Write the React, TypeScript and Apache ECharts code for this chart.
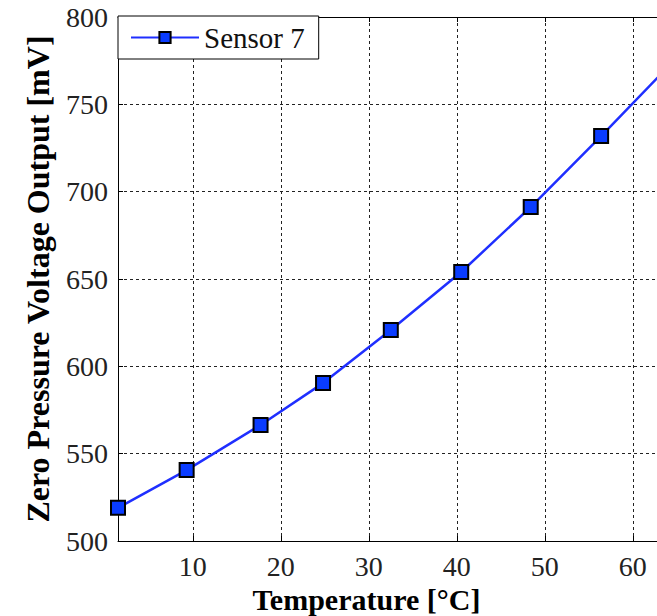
import React, { useEffect, useRef } from "react";
import * as echarts from "echarts";

const seriesName = "Sensor 7";
const temperature = [1.5, 9.3, 17.7, 24.8, 32.5, 40.5, 48.4, 56.4, 64.3];
const voltage = [519, 540.6, 566.4, 590.4, 620.8, 654, 691.2, 731.8, 773];
const yTicks = [500, 550, 600, 650, 700, 750, 800];
const xTicks = [10, 20, 30, 40, 50, 60];

const FONT = "Liberation Serif, Times New Roman, serif";

export default function App() {
  const ref = useRef<HTMLDivElement>(null);
  useEffect(() => {
    if (!ref.current) return;
    const chart = echarts.init(ref.current, undefined, { renderer: "svg" });
    const data = temperature.map((t, i) => [t, voltage[i]]);
    const xMin = 1.5;
    const xMax = 62.75;
    const axisLine = { show: true, lineStyle: { color: "#000", width: 1 } };
    chart.setOption({
      animation: false,
      backgroundColor: "#fff",
      textStyle: { fontFamily: FONT },
      grid: {
        left: 118,
        right: 0,
        top: 17,
        bottom: 75,
        containLabel: false,
        outerBoundsMode: "none",
      },
      legend: {
        left: 118,
        top: 16,
        orient: "horizontal",
        data: [seriesName],
        backgroundColor: "#fff",
        borderColor: "#000",
        borderWidth: 1,
        borderRadius: 0,
        padding: [7, 14, 7, 12],
        itemWidth: 68,
        itemHeight: 14,
        itemGap: 10,
        textStyle: { fontFamily: FONT, fontSize: 29, color: "#111" },
      },
      xAxis: [
        {
          type: "value",
          min: xMin,
          max: xMax,
          splitNumber: 6,
          name: "Temperature [°C]",
          nameLocation: "middle",
          nameGap: 43,
          nameTextStyle: {
            fontFamily: FONT,
            fontSize: 30,
            lineHeight: 30,
            fontWeight: "bold",
            color: "#000",
            padding: [0, 42, 0, 0],
          },
          axisLine,
          axisTick: { show: true, inside: true, length: 5, lineStyle: { color: "#000" } },
          axisLabel: {
            fontFamily: FONT,
            fontSize: 28,
            color: "#222",
            margin: 11,
            formatter: (v: number) => (xTicks.includes(Math.round(v * 1000) / 1000) ? String(v) : ""),
          },
          splitLine: {
            show: true,
            lineStyle: { color: "#222", width: 1, type: [3, 3] },
          },
        },
        {
          type: "value",
          position: "top",
          min: xMin,
          max: xMax,
          splitNumber: 6,
          axisLine,
          axisTick: { show: true, inside: true, length: 5, lineStyle: { color: "#000" } },
          axisLabel: { show: false },
          splitLine: { show: false },
        },
      ],
      yAxis: {
        type: "value",
        min: yTicks[0],
        max: yTicks[yTicks.length - 1],
        interval: 50,
        name: "Zero Pressure Voltage Output [mV]",
        nameLocation: "middle",
        nameGap: 64,
        nameTextStyle: {
          fontFamily: FONT,
          fontSize: 32,
          fontWeight: "bold",
          color: "#000",
        },
        axisLine,
        axisTick: { show: true, inside: true, length: 5, lineStyle: { color: "#000" } },
        axisLabel: { fontFamily: FONT, fontSize: 28, color: "#222", margin: 10 },
        splitLine: {
          show: true,
          lineStyle: { color: "#222", width: 1, type: [3, 3] },
        },
      },
      series: [
        {
          name: seriesName,
          type: "line",
          data,
          clip: true,
          symbol: "rect",
          symbolSize: 14,
          showAllSymbol: true,
          lineStyle: { color: "#1f2fff", width: 2.5 },
          itemStyle: { color: "#0a3cff", borderColor: "#000", borderWidth: 2 },
          z: 3,
        },
      ],
    });
    return () => chart.dispose();
  }, []);
  return (
    <div
      ref={ref}
      style={{ position: "absolute", left: 0, top: 0, width: 657, height: 616 }}
    />
  );
}
